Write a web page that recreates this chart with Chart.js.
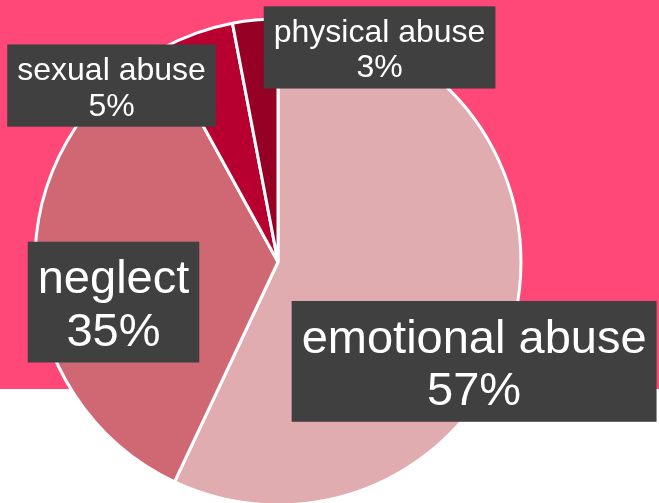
<!DOCTYPE html>
<html>
<head>
<meta charset="utf-8">
<script src="https://cdn.jsdelivr.net/npm/chart.js@4/dist/chart.umd.min.js"></script>
<style>
  html, body { margin:0; padding:0; background:#fff; }
  #wrap { width:659px; height:503px; position:relative; }
</style>
</head>
<body>
<div id="wrap"><canvas id="pie" width="659" height="503"></canvas></div>
<script>
// Data
const categories = ['emotional abuse', 'neglect', 'sexual abuse', 'physical abuse'];
const shares = [57, 35, 5, 3];
const sliceColors = ['#E0ACB0', '#CF6873', '#B80030', '#960025'];

// Label box placement relative to pie centre (in units of radius) and font size
const labelSpots = [
  {dx: 0.807, dy: 0.409, size: 47},
  {dx: -0.677, dy: 0.165, size: 47},
  {dx: -0.685, dy: -0.726, size: 32},
  {dx: 0.418, dy: -0.883, size: 32}
];

const FONT = '"Liberation Sans", Arial, sans-serif';

// pink band behind the pie
const backdrop = {
  id: 'backdrop',
  beforeDraw(chart){
    const ctx = chart.ctx;
    ctx.save();
    ctx.fillStyle = '#FF4778';
    ctx.fillRect(0, 0, chart.width, 389);
    ctx.restore();
  }
};

// dark boxes with two-line labels
const boxLabels = {
  id: 'boxLabels',
  afterDatasetsDraw(chart){
    const ctx = chart.ctx;
    const arcs = chart.getDatasetMeta(0).data;
    ctx.save();
    arcs.forEach((arc, i)=>{
      const spot = labelSpots[i];
      const r = arc.outerRadius;
      const cx = arc.x + spot.dx * r;
      const cy = arc.y + spot.dy * r;
      const lines = [categories[i], shares[i] + '%'];
      ctx.font = spot.size + 'px ' + FONT;
      const tw = Math.max(...lines.map(l => ctx.measureText(l).width));
      const lh = spot.size * 1.12;
      const w = tw + 20;
      const h = lh * 2 + spot.size * 0.33;
      ctx.fillStyle = '#404040';
      ctx.fillRect(cx - w/2, cy - h/2, w, h);
      ctx.fillStyle = '#FFFFFF';
      ctx.textAlign = 'center';
      ctx.textBaseline = 'middle';
      const shift = spot.size * 0.1; // glyphs sit a bit low in the boxes
      ctx.fillText(lines[0], cx, cy - lh/2 + shift);
      ctx.fillText(lines[1], cx, cy + lh/2 + shift);
    });
    ctx.restore();
  }
};

new Chart(document.getElementById('pie'), {
  type: 'pie',
  data: {
    labels: categories,
    datasets: [{
      data: shares,
      backgroundColor: sliceColors,
      borderColor: '#FFFFFF',
      borderWidth: 3
    }]
  },
  options: {
    responsive: false,
    animation: false,
    radius: 243,
    layout: { padding: { left: 0, right: 103, top: 21, bottom: 0 } },
    plugins: {
      legend: { display: false },
      tooltip: { enabled: false }
    }
  },
  plugins: [backdrop, boxLabels]
});
</script>
</body>
</html>
